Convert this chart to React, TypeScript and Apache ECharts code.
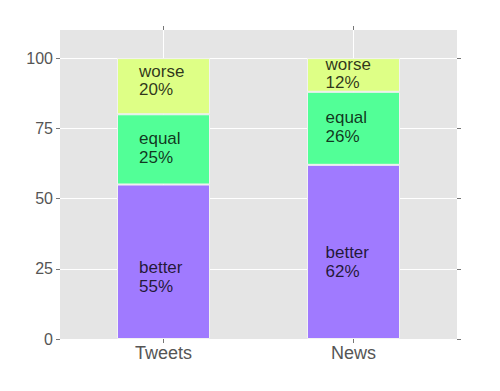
import React, { useEffect, useRef } from 'react';
import * as echarts from 'echarts';

const categories = ['Tweets', 'News'];
const groups = ['better', 'equal', 'worse'];
const better = [55, 62];
const equal = [25, 26];
const worse = [20, 12];
// label anchor heights (data units)
const labelPosBetter = [22, 27.5];
const labelPosEqual = [68, 75.5];
const labelPosWorse = [92, 94.5];
const yTicks = [0, 25, 50, 75, 100];

export default function App() {
  const ref = useRef<HTMLDivElement>(null);
  useEffect(() => {
    const chart = echarts.init(ref.current!, null, { renderer: 'svg' });
    const colors: Record<string, string> = { better: '#A07AFF', equal: '#52FF97', worse: '#DEFF86' };
    const values: Record<string, number[]> = { better, equal, worse };
    const labelPos: Record<string, number[]> = { better: labelPosBetter, equal: labelPosEqual, worse: labelPosWorse };
    const labelOffsetX = [-24.5, -28];
    const font = 'Liberation Sans, Arial, sans-serif';
    const yMax = 110;

    const barSeries = groups.map((g) => ({
      type: 'bar',
      name: g,
      stack: 'total',
      barWidth: 93,
      xAxisIndex: 1,
      yAxisIndex: 2,
      data: values[g],
      itemStyle: { color: colors[g], borderColor: '#F2F2F2', borderWidth: 1 },
      silent: true,
      z: 2,
    }));

    const labelSeries = groups.map((g) => ({
      type: 'scatter',
      name: g + '-label',
      xAxisIndex: 1,
      yAxisIndex: 2,
      symbol: 'circle',
      symbolSize: 1,
      itemStyle: { color: 'rgba(0,0,0,0)' },
      silent: true,
      z: 5,
      data: categories.map((c, i) => ({
        value: [c, labelPos[g][i]],
        label: {
          show: true,
          position: 'inside',
          offset: [labelOffsetX[i], 0],
          align: 'left',
          verticalAlign: 'middle',
          formatter: `${g}\n${values[g][i]}%`,
          fontFamily: font,
          fontSize: 17,
          lineHeight: 18.5,
          color: '#000',
        },
      })),
    }));

    const tickStyle = { color: '#777', width: 1 };

    chart.setOption({
      animation: false,
      backgroundColor: '#fff',
      grid: [
        {
          left: 60,
          right: 43,
          top: 30,
          bottom: 52,
          containLabel: false,
          show: true,
          backgroundColor: '#E5E5E5',
          borderWidth: 0,
        },
        {
          left: 68.5,
          right: 51.5,
          top: 30,
          bottom: 52,
          containLabel: false,
          show: false,
        },
      ],
      xAxis: [
        {
          gridIndex: 0,
          type: 'value',
          min: 0,
          max: 1,
          show: false,
        },
        {
          gridIndex: 1,
          type: 'category',
          position: 'bottom',
          data: categories,
          boundaryGap: true,
          axisLine: { show: false },
          axisTick: { show: true, length: 4, alignWithLabel: true, lineStyle: tickStyle },
          axisLabel: {
            fontFamily: font,
            fontSize: 18,
            color: '#555',
            margin: 5,
          },
          splitLine: { show: true, alignWithLabel: true, lineStyle: { color: '#FFFFFF', width: 1 } },
        },
        {
          gridIndex: 1,
          type: 'category',
          position: 'top',
          data: categories,
          boundaryGap: true,
          axisLine: { show: false },
          axisTick: { show: true, length: 4, alignWithLabel: true, lineStyle: tickStyle },
          axisLabel: { show: false },
          splitLine: { show: false },
        },
      ],
      yAxis: [
        {
          gridIndex: 0,
          type: 'value',
          position: 'left',
          min: 0,
          max: yMax,
          axisLine: { show: false },
          axisTick: { show: true, length: 4, customValues: yTicks, lineStyle: tickStyle },
          axisLabel: {
            customValues: yTicks,
            fontFamily: font,
            fontSize: 16,
            color: '#555',
            margin: 7,
          },
          splitLine: { show: true, lineStyle: { color: '#FFFFFF', width: 1 } },
        },
        {
          gridIndex: 0,
          type: 'value',
          position: 'right',
          min: 0,
          max: yMax,
          axisLine: { show: false },
          axisTick: { show: true, length: 4, customValues: yTicks, lineStyle: tickStyle },
          axisLabel: { show: false },
          splitLine: { show: false },
        },
        {
          gridIndex: 1,
          type: 'value',
          min: 0,
          max: yMax,
          show: false,
          splitLine: { show: false },
        },
      ],
      series: [...barSeries, ...labelSeries],
    });
    return () => chart.dispose();
  }, []);
  return (
    <div
      ref={ref}
      style={{ position: 'fixed', left: 0, top: 0, width: 500, height: 391 }}
    />
  );
}
